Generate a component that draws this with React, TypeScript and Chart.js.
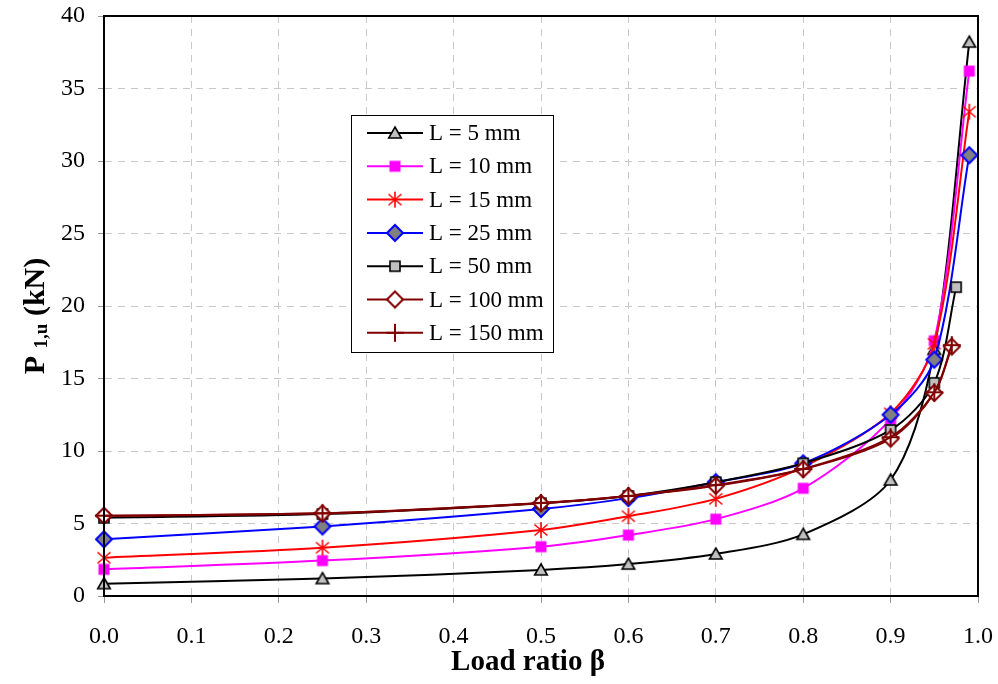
import React, { useEffect, useRef } from 'react';
import { Chart, registerables } from 'chart.js';

Chart.register(...registerables);

// ---- data ----
const betaMain = [0, 0.25, 0.5, 0.6, 0.7, 0.8, 0.9, 0.95, 0.99];
const beta50 = [0, 0.25, 0.5, 0.6, 0.7, 0.8, 0.9, 0.95, 0.975];
const beta100 = [0, 0.25, 0.5, 0.6, 0.7, 0.8, 0.9, 0.95, 0.97];

const L5 = [0.85, 1.2, 1.8, 2.2, 2.9, 4.25, 8.0, 17.0, 38.2];
const L10 = [1.84, 2.44, 3.4, 4.2, 5.3, 7.43, 12.2, 17.6, 36.2];
const L15 = [2.64, 3.33, 4.55, 5.5, 6.7, 8.9, 12.6, 17.4, 33.4];
const L25 = [3.91, 4.8, 6.0, 6.75, 7.85, 9.15, 12.5, 16.3, 30.4];
const L50 = [5.4, 5.65, 6.4, 6.9, 7.85, 9.15, 11.45, 14.7, 21.3];
const L100 = [5.54, 5.7, 6.4, 6.9, 7.6, 8.74, 10.85, 14.0, 17.2];
const L150 = [5.54, 5.7, 6.42, 6.9, 7.65, 8.76, 10.95, 14.05, 17.3];

const seriesLabels = ['L = 5 mm', 'L = 10 mm', 'L = 15 mm', 'L = 25 mm', 'L = 50 mm', 'L = 100 mm', 'L = 150 mm'];
const xTicks = [0, 0.1, 0.2, 0.3, 0.4, 0.5, 0.6, 0.7, 0.8, 0.9, 1.0];
const yTicks = [0, 5, 10, 15, 20, 25, 30, 35, 40];

const SERIF = "'Liberation Serif', 'Times New Roman', serif";

type MarkerKind = 'triangle' | 'magentaSquare' | 'star' | 'blueDiamond' | 'graySquare' | 'openDiamond' | 'cross';

function makeMarker(kind: MarkerKind): HTMLCanvasElement {
  const S = 22;
  const c = document.createElement('canvas');
  c.width = S;
  c.height = S;
  const ctx = c.getContext('2d')!;
  const m = S / 2;
  ctx.lineJoin = 'miter';
  switch (kind) {
    case 'triangle':
      ctx.beginPath();
      ctx.moveTo(m, m - 6);
      ctx.lineTo(m + 6.3, m + 5);
      ctx.lineTo(m - 6.3, m + 5);
      ctx.closePath();
      ctx.fillStyle = '#c0c0c0';
      ctx.fill();
      ctx.strokeStyle = '#000';
      ctx.lineWidth = 1.6;
      ctx.stroke();
      break;
    case 'magentaSquare':
      ctx.fillStyle = '#ff00ff';
      ctx.fillRect(m - 5.5, m - 5.5, 11, 11);
      break;
    case 'star':
      ctx.strokeStyle = '#ff0000';
      ctx.lineWidth = 1.6;
      ctx.beginPath();
      ctx.moveTo(m, m - 8);
      ctx.lineTo(m, m + 8);
      ctx.moveTo(m - 6.5, m - 5.5);
      ctx.lineTo(m + 6.5, m + 5.5);
      ctx.moveTo(m + 6.5, m - 5.5);
      ctx.lineTo(m - 6.5, m + 5.5);
      ctx.stroke();
      break;
    case 'blueDiamond':
      ctx.beginPath();
      ctx.moveTo(m, m - 8);
      ctx.lineTo(m + 8, m);
      ctx.lineTo(m, m + 8);
      ctx.lineTo(m - 8, m);
      ctx.closePath();
      ctx.fillStyle = '#808080';
      ctx.fill();
      ctx.strokeStyle = '#0000ff';
      ctx.lineWidth = 2;
      ctx.stroke();
      break;
    case 'graySquare':
      ctx.fillStyle = '#c0c0c0';
      ctx.fillRect(m - 5, m - 5, 10, 10);
      ctx.strokeStyle = '#000';
      ctx.lineWidth = 1.6;
      ctx.strokeRect(m - 5, m - 5, 10, 10);
      break;
    case 'openDiamond':
      ctx.beginPath();
      ctx.moveTo(m, m - 8);
      ctx.lineTo(m + 8, m);
      ctx.lineTo(m, m + 8);
      ctx.lineTo(m - 8, m);
      ctx.closePath();
      ctx.fillStyle = '#ffffff';
      ctx.fill();
      ctx.strokeStyle = '#800000';
      ctx.lineWidth = 2;
      ctx.stroke();
      break;
    case 'cross':
      ctx.strokeStyle = '#800000';
      ctx.lineWidth = 2;
      ctx.beginPath();
      ctx.moveTo(m, m - 9);
      ctx.lineTo(m, m + 9);
      ctx.moveTo(m - 9, m);
      ctx.lineTo(m + 9, m);
      ctx.stroke();
      break;
  }
  return c;
}

export default function App() {
  const canvasRef = useRef<HTMLCanvasElement | null>(null);

  useEffect(() => {
    const canvas = canvasRef.current;
    if (!canvas) return;

    const kinds: MarkerKind[] = ['triangle', 'magentaSquare', 'star', 'blueDiamond', 'graySquare', 'openDiamond', 'cross'];
    const markers = kinds.map(makeMarker);
    const colors = ['#000000', '#ff00ff', '#ff0000', '#0000ff', '#000000', '#800000', '#800000'];
    const xs = [betaMain, betaMain, betaMain, betaMain, beta50, beta100, beta100];
    const ys = [L5, L10, L15, L25, L50, L100, L150];

    const datasets = ys.map((vals, i) => ({
      label: seriesLabels[i],
      data: vals.map((v, j) => ({ x: xs[i][j], y: v })),
      borderColor: colors[i],
      backgroundColor: colors[i],
      borderWidth: 2,
      pointStyle: markers[i] as any,
      pointRadius: 8,
      pointHoverRadius: 8,
      tension: 0.3,
      clip: false as any,
      order: 10 - i,
    }));

    const overlay = {
      id: 'overlay',
      afterDraw(chart: any) {
        const ctx: CanvasRenderingContext2D = chart.ctx;
        const a = chart.chartArea;
        ctx.save();
        // frame
        ctx.strokeStyle = '#000';
        ctx.lineWidth = 2;
        ctx.setLineDash([]);
        ctx.strokeRect(a.left, a.top, a.right - a.left, a.bottom - a.top);

        // legend
        const lx = 351, ly = 115, lw = 202, lh = 237;
        ctx.fillStyle = '#fff';
        ctx.fillRect(lx, ly, lw, lh);
        ctx.strokeStyle = '#000';
        ctx.lineWidth = 1;
        ctx.strokeRect(lx + 0.5, ly + 0.5, lw, lh);
        ctx.font = `23px ${SERIF}`;
        ctx.textBaseline = 'middle';
        ctx.textAlign = 'left';
        for (let i = 0; i < seriesLabels.length; i++) {
          const yy = 133 + i * 33.3;
          ctx.strokeStyle = colors[i];
          ctx.lineWidth = 2;
          ctx.beginPath();
          ctx.moveTo(367, yy);
          ctx.lineTo(423, yy);
          ctx.stroke();
          const mk = markers[i];
          ctx.drawImage(mk, 395 - mk.width / 2, yy - mk.height / 2);
          ctx.fillStyle = '#000';
          ctx.fillText(seriesLabels[i], 429, yy + 1);
        }

        // x title
        ctx.fillStyle = '#000';
        ctx.font = `bold 29px ${SERIF}`;
        ctx.textAlign = 'center';
        ctx.textBaseline = 'alphabetic';
        ctx.fillText('Load ratio β', 528, 670);

        // y title with subscript
        ctx.translate(44, 316);
        ctx.rotate(-Math.PI / 2);
        const big = `bold 30px ${SERIF}`;
        const small = `bold 19px ${SERIF}`;
        ctx.font = big;
        const wP = ctx.measureText('P ').width;
        const wRest = ctx.measureText(' (kN)').width;
        ctx.font = small;
        const wSub = ctx.measureText('1,u').width;
        const total = wP + wSub + wRest;
        let x0 = -total / 2;
        ctx.textAlign = 'left';
        ctx.font = big;
        ctx.fillText('P ', x0, 0);
        x0 += wP;
        ctx.font = small;
        ctx.fillText('1,u', x0, 3);
        x0 += wSub;
        ctx.font = big;
        ctx.fillText(' (kN)', x0, 0);
        ctx.restore();
      },
    };

    const zeroPad = (scale: any) => {
      scale.paddingTop = 0;
      scale.paddingBottom = 0;
      scale.paddingLeft = 0;
      scale.paddingRight = 0;
    };

    const chart = new Chart(canvas, {
      type: 'line',
      data: { datasets: datasets as any },
      options: {
        animation: false,
        responsive: false,
        maintainAspectRatio: false,
        layout: { padding: { top: 16, right: 20, left: 0, bottom: 0 } },
        plugins: {
          legend: { display: false },
          tooltip: { enabled: false },
          title: { display: false },
        },
        scales: {
          x: {
            type: 'linear',
            min: 0,
            max: 1,
            afterBuildTicks: (scale: any) => {
              scale.ticks = xTicks.map((v) => ({ value: v }));
            },
            afterFit: (scale: any) => {
              scale.height = 88;
              zeroPad(scale);
            },
            ticks: {
              callback: (v: any) => Number(v).toFixed(1),
              font: { family: SERIF, size: 24 },
              color: '#000',
              padding: 19,
              maxRotation: 0,
              autoSkip: false,
            },
            grid: {
              color: '#c8c8c8',
              lineWidth: 1,
              tickLength: 7,
              tickColor: '#999',
              tickBorderDash: [],
            } as any,
            border: { display: true, color: '#000', width: 2, dash: [7, 6] } as any,
          },
          y: {
            type: 'linear',
            min: 0,
            max: 40,
            afterBuildTicks: (scale: any) => {
              scale.ticks = yTicks.map((v) => ({ value: v }));
            },
            afterFit: (scale: any) => {
              scale.width = 104;
              zeroPad(scale);
            },
            ticks: {
              font: { family: SERIF, size: 24 },
              color: '#000',
              padding: 13,
              autoSkip: false,
            },
            grid: {
              color: '#c8c8c8',
              lineWidth: 1,
              tickLength: 6,
              tickColor: '#999',
              tickBorderDash: [],
            } as any,
            border: { display: true, color: '#000', width: 2, dash: [7, 6] } as any,
          },
        },
      },
      plugins: [overlay],
    });

    return () => chart.destroy();
  }, []);

  return (
    <div style={{ position: 'fixed', left: 0, top: 0, width: 998, height: 684, background: '#fff' }}>
      <canvas ref={canvasRef} width={998} height={684} style={{ display: 'block' }} />
    </div>
  );
}
